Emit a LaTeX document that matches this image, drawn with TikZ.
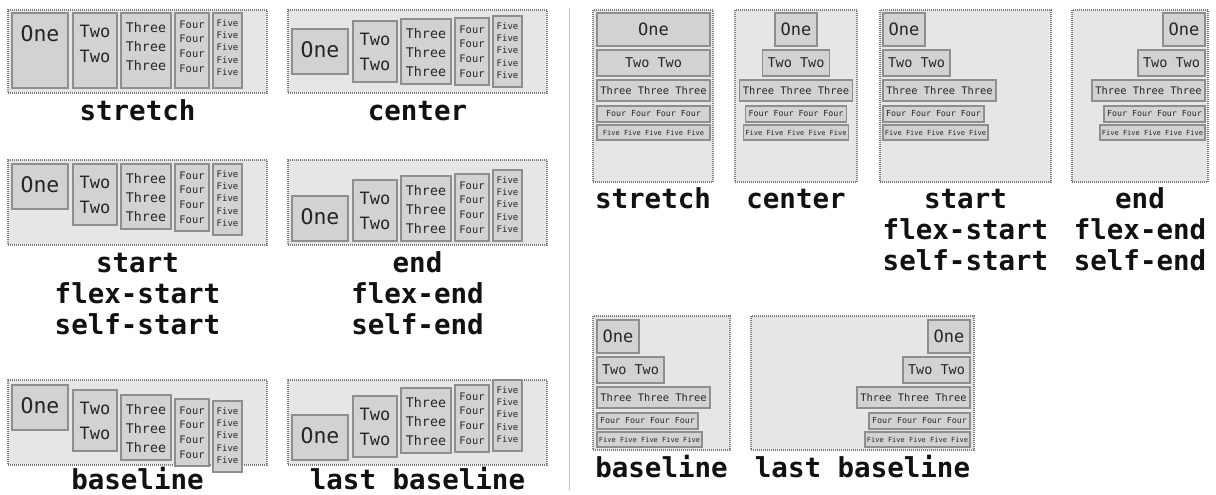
\documentclass[tikz,border=0pt]{standalone}
\usepackage{fontspec}
\setmonofont{DejaVu Sans Mono}

\definecolor{panelbg}{HTML}{E6E6E6}
\definecolor{itembg}{HTML}{D2D2D2}
\definecolor{itemdraw}{HTML}{8E8E8E}
\definecolor{paneldraw}{HTML}{7A7A7A}
\definecolor{divcol}{HTML}{C4C4C4}
\definecolor{labcol}{HTML}{111111}
\definecolor{itemtext}{HTML}{262626}

\tikzset{
  panel/.style={fill=panelbg, draw=paneldraw, line width=1.1pt, dash pattern=on 1pt off 1pt, inner sep=0pt, outer sep=0pt},
  itembox/.style={fill=itembg, draw=itemdraw, line width=1.5pt, inner sep=0pt, outer sep=0pt, text=itemtext},
  itxt/.style={inner sep=0pt, outer sep=0pt, align=center, text=itemtext},
  lab/.style={inner sep=0pt, anchor=base, text=labcol, font=\ttfamily\bfseries\fontsize{27.5}{31}\selectfont},
  divider/.style={draw=divcol, line width=1pt},
  fA/.style={font=\ttfamily\fontsize{21.5}{31}\selectfont},
  fB/.style={font=\ttfamily\fontsize{17}{25}\selectfont},
  fC/.style={font=\ttfamily\fontsize{13.3}{19}\selectfont},
  fD/.style={font=\ttfamily\fontsize{10.4}{14.7}\selectfont},
  fE/.style={font=\ttfamily\fontsize{9}{12.2}\selectfont},
  rA/.style={font=\ttfamily\fontsize{17}{20}\selectfont},
  rB/.style={font=\ttfamily\fontsize{13.5}{16}\selectfont},
  rC/.style={font=\ttfamily\fontsize{10.4}{12}\selectfont},
  rD/.style={font=\ttfamily\fontsize{8.3}{10}\selectfont},
  rE/.style={font=\ttfamily\fontsize{7}{8}\selectfont},
}

% panel: name, x1, y1, x2, y2
\newcommand\panelbox[5]{%
  \node[panel, minimum width={(#4)-(#2)}, minimum height={(#5)-(#3)}] (#1) at ({((#2)+(#4))/2},{((#3)+(#5))/2}) {};}
% left item: name, x1, y1, x2, y2, font style, cap offset, text
\newcommand\litem[8]{%
  \node[itembox, minimum width={(#4)-(#2)}, minimum height={(#5)-(#3)}] (#1) at ({((#2)+(#4))/2},{((#3)+(#5))/2}) {};
  \node[itxt, #6, anchor=north] (#1t) at ([yshift=-#7pt]#1.north) {#8};}
\newcommand\lOne[4]{\litem{#1}{12+#2}{#3}{68+#2}{#4}{fA}{13}{One}}
\newcommand\lTwo[4]{\litem{#1}{73+#2}{#3}{117+#2}{#4}{fB}{12}{Two\\Two}}
\newcommand\lThree[4]{\litem{#1}{121+#2}{#3}{171+#2}{#4}{fC}{9.5}{Three\\Three\\Three}}
\newcommand\lFour[4]{\litem{#1}{175+#2}{#3}{209+#2}{#4}{fD}{7.5}{Four\\Four\\Four\\Four}}
\newcommand\lFive[4]{\litem{#1}{213+#2}{#3}{242+#2}{#4}{fE}{6.7}{Five\\Five\\Five\\Five\\Five}}
% right item: name, x1, y1, x2, y2, font style, text
\newcommand\ritem[7]{%
  \node[itembox, #6, minimum width={(#4)-(#2)}, minimum height={(#5)-(#3)}] (#1) at ({((#2)+(#4))/2},{((#3)+(#5))/2}) {#7};}
% right item sets by left edge: prefix, left x, y offset
\newcommand\rsetL[3]{%
  \ritem{#1a}{#2}{13+#3}{#2+42}{46+#3}{rA}{One}
  \ritem{#1b}{#2}{50+#3}{#2+67}{76+#3}{rB}{Two Two}
  \ritem{#1c}{#2}{80+#3}{#2+113}{101+#3}{rC}{Three Three Three}
  \ritem{#1d}{#2}{106+#3}{#2+101}{122+#3}{rD}{Four Four Four Four}
  \ritem{#1e}{#2}{125+#3}{#2+105}{140+#3}{rE}{Five Five Five Five Five}}
\newcommand\rsetR[3]{%
  \ritem{#1a}{#2-42}{13+#3}{#2}{46+#3}{rA}{One}
  \ritem{#1b}{#2-67}{50+#3}{#2}{76+#3}{rB}{Two Two}
  \ritem{#1c}{#2-113}{80+#3}{#2}{101+#3}{rC}{Three Three Three}
  \ritem{#1d}{#2-101}{106+#3}{#2}{122+#3}{rD}{Four Four Four Four}
  \ritem{#1e}{#2-105}{125+#3}{#2}{140+#3}{rE}{Five Five Five Five Five}}
\newcommand\rsetC[3]{%
  \ritem{#1a}{#2-21}{13+#3}{#2+21}{46+#3}{rA}{One}
  \ritem{#1b}{#2-33.5}{50+#3}{#2+33.5}{76+#3}{rB}{Two Two}
  \ritem{#1c}{#2-56.5}{80+#3}{#2+56.5}{101+#3}{rC}{Three Three Three}
  \ritem{#1d}{#2-50.5}{106+#3}{#2+50.5}{122+#3}{rD}{Four Four Four Four}
  \ritem{#1e}{#2-52.5}{125+#3}{#2+52.5}{140+#3}{rE}{Five Five Five Five Five}}

\begin{document}
\begin{tikzpicture}[x=1pt,y=-1pt]
\useasboundingbox (0,0) rectangle (1216,495);
\fill[white] (0,0) rectangle (1216,495);

% divider
\coordinate (d1) at (569,8);
\coordinate (d2) at (569,490);
\draw[divider] (d1) -- (d2);

% ---------------- left: row direction ----------------
% stretch
\panelbox{p1}{8}{10}{267}{93}
\lOne{p1a}{0}{13}{88}
\lTwo{p1b}{0}{13}{88}
\lThree{p1c}{0}{13}{88}
\lFour{p1d}{0}{13}{88}
\lFive{p1e}{0}{13}{88}
\node[lab] (lab1) at (137.5,120) {stretch};

% center
\panelbox{p2}{288}{10}{547}{93}
\lOne{p2a}{280}{29}{74}
\lTwo{p2b}{280}{21}{82}
\lThree{p2c}{280}{19}{84}
\lFour{p2d}{280}{18}{85}
\lFive{p2e}{280}{16}{87}
\node[lab] (lab2) at (417.5,120) {center};

% start
\panelbox{p3}{8}{160}{267}{245}
\lOne{p3a}{0}{164}{209}
\lTwo{p3b}{0}{164}{225}
\lThree{p3c}{0}{164}{229}
\lFour{p3d}{0}{164}{231}
\lFive{p3e}{0}{164}{235}
\node[lab] (lab3a) at (137.5,272) {start};
\node[lab] (lab3b) at (137.5,303) {flex-start};
\node[lab] (lab3c) at (137.5,334) {self-start};

% end
\panelbox{p4}{288}{160}{547}{245}
\lOne{p4a}{280}{196}{241}
\lTwo{p4b}{280}{180}{241}
\lThree{p4c}{280}{176}{241}
\lFour{p4d}{280}{174}{241}
\lFive{p4e}{280}{170}{241}
\node[lab] (lab4a) at (417.5,272) {end};
\node[lab] (lab4b) at (417.5,303) {flex-end};
\node[lab] (lab4c) at (417.5,334) {self-end};

% baseline
\panelbox{p5}{8}{380}{267}{465}
\lOne{p5a}{0}{385}{430}
\lTwo{p5b}{0}{390}{451}
\lThree{p5c}{0}{395}{460}
\lFour{p5d}{0}{399}{466}
\lFive{p5e}{0}{401}{472}
\node[lab] (lab5) at (137.5,489) {baseline};

% last baseline
\panelbox{p6}{288}{380}{547}{465}
\lOne{p6a}{280}{415}{460}
\lTwo{p6b}{280}{396}{457}
\lThree{p6c}{280}{388}{453}
\lFour{p6d}{280}{385}{452}
\lFive{p6e}{280}{380}{451}
\node[lab] (lab6) at (417.5,489) {last baseline};

% ---------------- right: column direction ----------------
% stretch
\panelbox{q1}{593}{10}{713}{182}
\ritem{q1a}{597}{13}{710}{46}{rA}{One}
\ritem{q1b}{597}{50}{710}{76}{rB}{Two Two}
\ritem{q1c}{597}{80}{710}{101}{rC}{Three Three Three}
\ritem{q1d}{597}{106}{710}{122}{rD}{Four Four Four Four}
\ritem{q1e}{597}{125}{710}{140}{rE}{Five Five Five Five Five}
\node[lab] (labR1) at (653,208) {stretch};

% center
\panelbox{q2}{735}{10}{857}{182}
\rsetC{q2}{796}{0}
\node[lab] (labR2) at (796,208) {center};

% start
\panelbox{q3}{880}{10}{1051}{182}
\rsetL{q3}{883}{0}
\node[lab] (labR3a) at (965.5,208) {start};
\node[lab] (labR3b) at (965.5,239) {flex-start};
\node[lab] (labR3c) at (965.5,270) {self-start};

% end
\panelbox{q4}{1072}{10}{1208}{182}
\rsetR{q4}{1205}{0}
\node[lab] (labR4a) at (1140,208) {end};
\node[lab] (labR4b) at (1140,239) {flex-end};
\node[lab] (labR4c) at (1140,270) {self-end};

% baseline
\panelbox{q5}{593}{316}{730}{450}
\rsetL{q5}{597}{307}
\node[lab] (labR5) at (661.5,477) {baseline};

% last baseline
\panelbox{q6}{751}{316}{974}{450}
\rsetR{q6}{970}{307}
\node[lab] (labR6) at (862.5,477) {last baseline};
\end{tikzpicture}
\end{document}
